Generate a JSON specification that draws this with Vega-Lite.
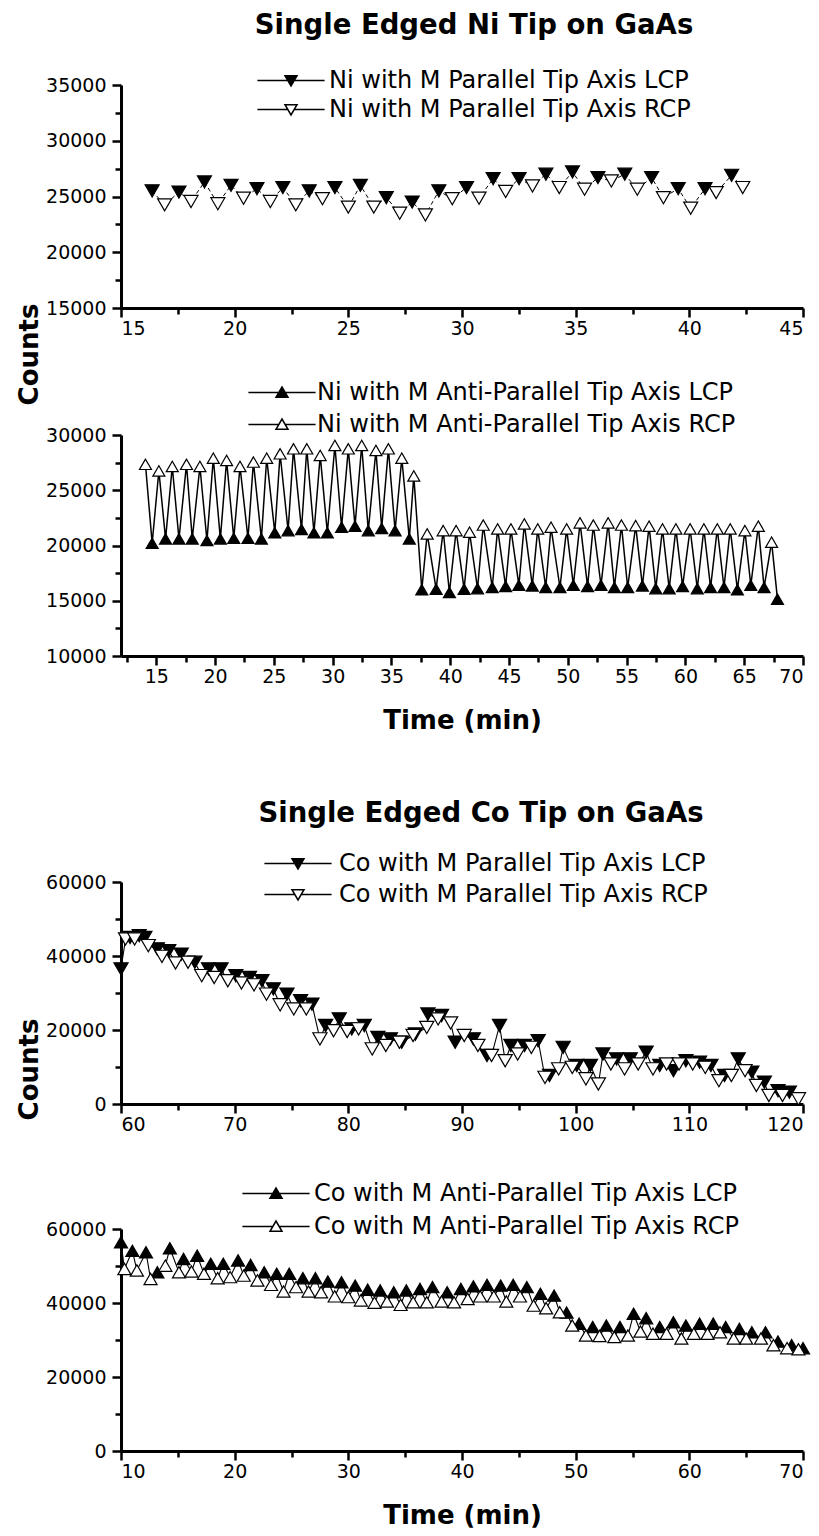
{
  "$schema": "https://vega.github.io/schema/vega-lite/v6.json",
  "autosize": {"type": "pad"},
  "padding": {"left": 16, "top": 12, "right": 5, "bottom": 5},
  "background": "white",
  "config": {
    "view": {"stroke": null},
    "font": "DejaVu Sans",
    "axis": {"domainColor": "black", "domainWidth": 3, "tickColor": "black", "tickWidth": 2.5, "tickSize": 9, "labelFont": "DejaVu Sans", "labelFontSize": 19, "labelColor": "black", "labelPadding": 6, "grid": false, "titleFont": "DejaVu Sans", "titleFontSize": 26, "titleFontWeight": "bold", "titleColor": "black"},
    "legend": {"labelFont": "DejaVu Sans", "labelFontSize": 24, "labelColor": "black", "labelLimit": 0, "symbolSize": 144, "symbolStrokeColor": "black", "symbolStrokeWidth": 1.5, "symbolOpacity": 1, "padding": 0, "title": null, "orient": "none", "direction": "vertical"},
    "title": {"font": "DejaVu Sans", "fontSize": 27.5, "fontWeight": "bold", "color": "black"}
  },
  "resolve": {"scale": {"fill": "independent"}, "legend": {"fill": "independent"}},
  "datasets": {
    "niPar": [
      {"t": 16.37, "counts": 25500, "series": "Ni with M Parallel Tip Axis LCP"},
      {"t": 17.55, "counts": 25400, "series": "Ni with M Parallel Tip Axis LCP"},
      {"t": 18.67, "counts": 26300, "series": "Ni with M Parallel Tip Axis LCP"},
      {"t": 19.84, "counts": 26000, "series": "Ni with M Parallel Tip Axis LCP"},
      {"t": 20.98, "counts": 25700, "series": "Ni with M Parallel Tip Axis LCP"},
      {"t": 22.12, "counts": 25800, "series": "Ni with M Parallel Tip Axis LCP"},
      {"t": 23.28, "counts": 25500, "series": "Ni with M Parallel Tip Axis LCP"},
      {"t": 24.41, "counts": 25800, "series": "Ni with M Parallel Tip Axis LCP"},
      {"t": 25.53, "counts": 26000, "series": "Ni with M Parallel Tip Axis LCP"},
      {"t": 26.67, "counts": 24900, "series": "Ni with M Parallel Tip Axis LCP"},
      {"t": 27.81, "counts": 24500, "series": "Ni with M Parallel Tip Axis LCP"},
      {"t": 28.98, "counts": 25500, "series": "Ni with M Parallel Tip Axis LCP"},
      {"t": 30.20, "counts": 25800, "series": "Ni with M Parallel Tip Axis LCP"},
      {"t": 31.37, "counts": 26600, "series": "Ni with M Parallel Tip Axis LCP"},
      {"t": 32.51, "counts": 26600, "series": "Ni with M Parallel Tip Axis LCP"},
      {"t": 33.69, "counts": 27000, "series": "Ni with M Parallel Tip Axis LCP"},
      {"t": 34.86, "counts": 27200, "series": "Ni with M Parallel Tip Axis LCP"},
      {"t": 35.98, "counts": 26700, "series": "Ni with M Parallel Tip Axis LCP"},
      {"t": 37.16, "counts": 27000, "series": "Ni with M Parallel Tip Axis LCP"},
      {"t": 38.34, "counts": 26700, "series": "Ni with M Parallel Tip Axis LCP"},
      {"t": 39.51, "counts": 25700, "series": "Ni with M Parallel Tip Axis LCP"},
      {"t": 40.69, "counts": 25700, "series": "Ni with M Parallel Tip Axis LCP"},
      {"t": 41.86, "counts": 26900, "series": "Ni with M Parallel Tip Axis LCP"},
      {"t": 16.92, "counts": 24250, "series": "Ni with M Parallel Tip Axis RCP"},
      {"t": 18.08, "counts": 24550, "series": "Ni with M Parallel Tip Axis RCP"},
      {"t": 19.26, "counts": 24350, "series": "Ni with M Parallel Tip Axis RCP"},
      {"t": 20.39, "counts": 24850, "series": "Ni with M Parallel Tip Axis RCP"},
      {"t": 21.57, "counts": 24550, "series": "Ni with M Parallel Tip Axis RCP"},
      {"t": 22.69, "counts": 24250, "series": "Ni with M Parallel Tip Axis RCP"},
      {"t": 23.86, "counts": 24800, "series": "Ni with M Parallel Tip Axis RCP"},
      {"t": 25.00, "counts": 24050, "series": "Ni with M Parallel Tip Axis RCP"},
      {"t": 26.12, "counts": 24050, "series": "Ni with M Parallel Tip Axis RCP"},
      {"t": 27.26, "counts": 23500, "series": "Ni with M Parallel Tip Axis RCP"},
      {"t": 28.39, "counts": 23350, "series": "Ni with M Parallel Tip Axis RCP"},
      {"t": 29.57, "counts": 24800, "series": "Ni with M Parallel Tip Axis RCP"},
      {"t": 30.75, "counts": 24850, "series": "Ni with M Parallel Tip Axis RCP"},
      {"t": 31.92, "counts": 25450, "series": "Ni with M Parallel Tip Axis RCP"},
      {"t": 33.10, "counts": 25950, "series": "Ni with M Parallel Tip Axis RCP"},
      {"t": 34.28, "counts": 25800, "series": "Ni with M Parallel Tip Axis RCP"},
      {"t": 35.39, "counts": 25650, "series": "Ni with M Parallel Tip Axis RCP"},
      {"t": 36.57, "counts": 26400, "series": "Ni with M Parallel Tip Axis RCP"},
      {"t": 37.71, "counts": 25650, "series": "Ni with M Parallel Tip Axis RCP"},
      {"t": 38.86, "counts": 24900, "series": "Ni with M Parallel Tip Axis RCP"},
      {"t": 40.06, "counts": 23950, "series": "Ni with M Parallel Tip Axis RCP"},
      {"t": 41.18, "counts": 25350, "series": "Ni with M Parallel Tip Axis RCP"},
      {"t": 42.35, "counts": 25800, "series": "Ni with M Parallel Tip Axis RCP"}
    ],
    "niAnti": [
      {"t": 14.65, "counts": 20200, "series": "Ni with M Anti-Parallel Tip Axis LCP"},
      {"t": 15.79, "counts": 20600, "series": "Ni with M Anti-Parallel Tip Axis LCP"},
      {"t": 16.93, "counts": 20600, "series": "Ni with M Anti-Parallel Tip Axis LCP"},
      {"t": 18.06, "counts": 20600, "series": "Ni with M Anti-Parallel Tip Axis LCP"},
      {"t": 19.31, "counts": 20450, "series": "Ni with M Anti-Parallel Tip Axis LCP"},
      {"t": 20.45, "counts": 20600, "series": "Ni with M Anti-Parallel Tip Axis LCP"},
      {"t": 21.59, "counts": 20650, "series": "Ni with M Anti-Parallel Tip Axis LCP"},
      {"t": 22.80, "counts": 20650, "series": "Ni with M Anti-Parallel Tip Axis LCP"},
      {"t": 23.94, "counts": 20600, "series": "Ni with M Anti-Parallel Tip Axis LCP"},
      {"t": 25.08, "counts": 21150, "series": "Ni with M Anti-Parallel Tip Axis LCP"},
      {"t": 26.21, "counts": 21350, "series": "Ni with M Anti-Parallel Tip Axis LCP"},
      {"t": 27.35, "counts": 21450, "series": "Ni with M Anti-Parallel Tip Axis LCP"},
      {"t": 28.41, "counts": 21150, "series": "Ni with M Anti-Parallel Tip Axis LCP"},
      {"t": 29.55, "counts": 21150, "series": "Ni with M Anti-Parallel Tip Axis LCP"},
      {"t": 30.76, "counts": 21650, "series": "Ni with M Anti-Parallel Tip Axis LCP"},
      {"t": 31.90, "counts": 21750, "series": "Ni with M Anti-Parallel Tip Axis LCP"},
      {"t": 33.03, "counts": 21350, "series": "Ni with M Anti-Parallel Tip Axis LCP"},
      {"t": 34.17, "counts": 21550, "series": "Ni with M Anti-Parallel Tip Axis LCP"},
      {"t": 35.31, "counts": 21350, "series": "Ni with M Anti-Parallel Tip Axis LCP"},
      {"t": 36.52, "counts": 20600, "series": "Ni with M Anti-Parallel Tip Axis LCP"},
      {"t": 37.58, "counts": 16000, "series": "Ni with M Anti-Parallel Tip Axis LCP"},
      {"t": 38.80, "counts": 16050, "series": "Ni with M Anti-Parallel Tip Axis LCP"},
      {"t": 39.93, "counts": 15750, "series": "Ni with M Anti-Parallel Tip Axis LCP"},
      {"t": 41.18, "counts": 16050, "series": "Ni with M Anti-Parallel Tip Axis LCP"},
      {"t": 42.32, "counts": 16100, "series": "Ni with M Anti-Parallel Tip Axis LCP"},
      {"t": 43.57, "counts": 16200, "series": "Ni with M Anti-Parallel Tip Axis LCP"},
      {"t": 44.71, "counts": 16300, "series": "Ni with M Anti-Parallel Tip Axis LCP"},
      {"t": 45.84, "counts": 16400, "series": "Ni with M Anti-Parallel Tip Axis LCP"},
      {"t": 46.98, "counts": 16350, "series": "Ni with M Anti-Parallel Tip Axis LCP"},
      {"t": 48.12, "counts": 16200, "series": "Ni with M Anti-Parallel Tip Axis LCP"},
      {"t": 49.33, "counts": 16200, "series": "Ni with M Anti-Parallel Tip Axis LCP"},
      {"t": 50.47, "counts": 16400, "series": "Ni with M Anti-Parallel Tip Axis LCP"},
      {"t": 51.68, "counts": 16300, "series": "Ni with M Anti-Parallel Tip Axis LCP"},
      {"t": 52.82, "counts": 16400, "series": "Ni with M Anti-Parallel Tip Axis LCP"},
      {"t": 53.96, "counts": 16200, "series": "Ni with M Anti-Parallel Tip Axis LCP"},
      {"t": 55.09, "counts": 16200, "series": "Ni with M Anti-Parallel Tip Axis LCP"},
      {"t": 56.34, "counts": 16350, "series": "Ni with M Anti-Parallel Tip Axis LCP"},
      {"t": 57.48, "counts": 16100, "series": "Ni with M Anti-Parallel Tip Axis LCP"},
      {"t": 58.62, "counts": 16100, "series": "Ni with M Anti-Parallel Tip Axis LCP"},
      {"t": 59.76, "counts": 16300, "series": "Ni with M Anti-Parallel Tip Axis LCP"},
      {"t": 61.01, "counts": 16100, "series": "Ni with M Anti-Parallel Tip Axis LCP"},
      {"t": 62.14, "counts": 16200, "series": "Ni with M Anti-Parallel Tip Axis LCP"},
      {"t": 63.28, "counts": 16200, "series": "Ni with M Anti-Parallel Tip Axis LCP"},
      {"t": 64.42, "counts": 16000, "series": "Ni with M Anti-Parallel Tip Axis LCP"},
      {"t": 65.56, "counts": 16400, "series": "Ni with M Anti-Parallel Tip Axis LCP"},
      {"t": 66.69, "counts": 16200, "series": "Ni with M Anti-Parallel Tip Axis LCP"},
      {"t": 67.83, "counts": 15150, "series": "Ni with M Anti-Parallel Tip Axis LCP"},
      {"t": 14.08, "counts": 27350, "series": "Ni with M Anti-Parallel Tip Axis RCP"},
      {"t": 15.22, "counts": 26750, "series": "Ni with M Anti-Parallel Tip Axis RCP"},
      {"t": 16.36, "counts": 27150, "series": "Ni with M Anti-Parallel Tip Axis RCP"},
      {"t": 17.57, "counts": 27350, "series": "Ni with M Anti-Parallel Tip Axis RCP"},
      {"t": 18.71, "counts": 27150, "series": "Ni with M Anti-Parallel Tip Axis RCP"},
      {"t": 19.85, "counts": 27900, "series": "Ni with M Anti-Parallel Tip Axis RCP"},
      {"t": 20.98, "counts": 27700, "series": "Ni with M Anti-Parallel Tip Axis RCP"},
      {"t": 22.12, "counts": 27150, "series": "Ni with M Anti-Parallel Tip Axis RCP"},
      {"t": 23.26, "counts": 27550, "series": "Ni with M Anti-Parallel Tip Axis RCP"},
      {"t": 24.39, "counts": 27900, "series": "Ni with M Anti-Parallel Tip Axis RCP"},
      {"t": 25.53, "counts": 28300, "series": "Ni with M Anti-Parallel Tip Axis RCP"},
      {"t": 26.67, "counts": 28750, "series": "Ni with M Anti-Parallel Tip Axis RCP"},
      {"t": 27.80, "counts": 28750, "series": "Ni with M Anti-Parallel Tip Axis RCP"},
      {"t": 28.94, "counts": 28150, "series": "Ni with M Anti-Parallel Tip Axis RCP"},
      {"t": 30.19, "counts": 29050, "series": "Ni with M Anti-Parallel Tip Axis RCP"},
      {"t": 31.33, "counts": 28750, "series": "Ni with M Anti-Parallel Tip Axis RCP"},
      {"t": 32.47, "counts": 29050, "series": "Ni with M Anti-Parallel Tip Axis RCP"},
      {"t": 33.68, "counts": 28600, "series": "Ni with M Anti-Parallel Tip Axis RCP"},
      {"t": 34.74, "counts": 28750, "series": "Ni with M Anti-Parallel Tip Axis RCP"},
      {"t": 35.88, "counts": 27900, "series": "Ni with M Anti-Parallel Tip Axis RCP"},
      {"t": 36.90, "counts": 26300, "series": "Ni with M Anti-Parallel Tip Axis RCP"},
      {"t": 38.04, "counts": 21050, "series": "Ni with M Anti-Parallel Tip Axis RCP"},
      {"t": 39.40, "counts": 21350, "series": "Ni with M Anti-Parallel Tip Axis RCP"},
      {"t": 40.50, "counts": 21350, "series": "Ni with M Anti-Parallel Tip Axis RCP"},
      {"t": 41.64, "counts": 21200, "series": "Ni with M Anti-Parallel Tip Axis RCP"},
      {"t": 42.81, "counts": 21850, "series": "Ni with M Anti-Parallel Tip Axis RCP"},
      {"t": 44.03, "counts": 21500, "series": "Ni with M Anti-Parallel Tip Axis RCP"},
      {"t": 45.16, "counts": 21500, "series": "Ni with M Anti-Parallel Tip Axis RCP"},
      {"t": 46.30, "counts": 21950, "series": "Ni with M Anti-Parallel Tip Axis RCP"},
      {"t": 47.44, "counts": 21500, "series": "Ni with M Anti-Parallel Tip Axis RCP"},
      {"t": 48.57, "counts": 21650, "series": "Ni with M Anti-Parallel Tip Axis RCP"},
      {"t": 49.90, "counts": 21500, "series": "Ni with M Anti-Parallel Tip Axis RCP"},
      {"t": 51.04, "counts": 22050, "series": "Ni with M Anti-Parallel Tip Axis RCP"},
      {"t": 52.17, "counts": 21850, "series": "Ni with M Anti-Parallel Tip Axis RCP"},
      {"t": 53.43, "counts": 22050, "series": "Ni with M Anti-Parallel Tip Axis RCP"},
      {"t": 54.56, "counts": 21850, "series": "Ni with M Anti-Parallel Tip Axis RCP"},
      {"t": 55.77, "counts": 21800, "series": "Ni with M Anti-Parallel Tip Axis RCP"},
      {"t": 56.91, "counts": 21750, "series": "Ni with M Anti-Parallel Tip Axis RCP"},
      {"t": 58.05, "counts": 21500, "series": "Ni with M Anti-Parallel Tip Axis RCP"},
      {"t": 59.19, "counts": 21500, "series": "Ni with M Anti-Parallel Tip Axis RCP"},
      {"t": 60.40, "counts": 21500, "series": "Ni with M Anti-Parallel Tip Axis RCP"},
      {"t": 61.57, "counts": 21500, "series": "Ni with M Anti-Parallel Tip Axis RCP"},
      {"t": 62.71, "counts": 21500, "series": "Ni with M Anti-Parallel Tip Axis RCP"},
      {"t": 63.81, "counts": 21500, "series": "Ni with M Anti-Parallel Tip Axis RCP"},
      {"t": 65.06, "counts": 21350, "series": "Ni with M Anti-Parallel Tip Axis RCP"},
      {"t": 66.20, "counts": 21750, "series": "Ni with M Anti-Parallel Tip Axis RCP"},
      {"t": 67.33, "counts": 20300, "series": "Ni with M Anti-Parallel Tip Axis RCP"}
    ],
    "coPar": [
      {"t": 60.0, "counts": 36500, "series": "Co with M Parallel Tip Axis LCP"},
      {"t": 60.8, "counts": 45000, "series": "Co with M Parallel Tip Axis LCP"},
      {"t": 61.6, "counts": 45500, "series": "Co with M Parallel Tip Axis LCP"},
      {"t": 62.1, "counts": 45000, "series": "Co with M Parallel Tip Axis LCP"},
      {"t": 63.2, "counts": 41900, "series": "Co with M Parallel Tip Axis LCP"},
      {"t": 64.2, "counts": 41400, "series": "Co with M Parallel Tip Axis LCP"},
      {"t": 65.3, "counts": 40500, "series": "Co with M Parallel Tip Axis LCP"},
      {"t": 66.5, "counts": 38300, "series": "Co with M Parallel Tip Axis LCP"},
      {"t": 67.7, "counts": 36500, "series": "Co with M Parallel Tip Axis LCP"},
      {"t": 68.8, "counts": 36500, "series": "Co with M Parallel Tip Axis LCP"},
      {"t": 70.1, "counts": 34700, "series": "Co with M Parallel Tip Axis LCP"},
      {"t": 71.3, "counts": 34200, "series": "Co with M Parallel Tip Axis LCP"},
      {"t": 72.4, "counts": 33300, "series": "Co with M Parallel Tip Axis LCP"},
      {"t": 73.4, "counts": 31100, "series": "Co with M Parallel Tip Axis LCP"},
      {"t": 74.6, "counts": 29700, "series": "Co with M Parallel Tip Axis LCP"},
      {"t": 75.8, "counts": 27900, "series": "Co with M Parallel Tip Axis LCP"},
      {"t": 76.8, "counts": 27000, "series": "Co with M Parallel Tip Axis LCP"},
      {"t": 78.0, "counts": 21200, "series": "Co with M Parallel Tip Axis LCP"},
      {"t": 79.2, "counts": 23000, "series": "Co with M Parallel Tip Axis LCP"},
      {"t": 80.3, "counts": 20300, "series": "Co with M Parallel Tip Axis LCP"},
      {"t": 81.4, "counts": 21200, "series": "Co with M Parallel Tip Axis LCP"},
      {"t": 82.6, "counts": 18000, "series": "Co with M Parallel Tip Axis LCP"},
      {"t": 83.7, "counts": 17600, "series": "Co with M Parallel Tip Axis LCP"},
      {"t": 84.7, "counts": 16700, "series": "Co with M Parallel Tip Axis LCP"},
      {"t": 85.9, "counts": 18900, "series": "Co with M Parallel Tip Axis LCP"},
      {"t": 87.0, "counts": 24300, "series": "Co with M Parallel Tip Axis LCP"},
      {"t": 88.2, "counts": 23900, "series": "Co with M Parallel Tip Axis LCP"},
      {"t": 89.4, "counts": 16700, "series": "Co with M Parallel Tip Axis LCP"},
      {"t": 91.0, "counts": 17600, "series": "Co with M Parallel Tip Axis LCP"},
      {"t": 92.2, "counts": 13100, "series": "Co with M Parallel Tip Axis LCP"},
      {"t": 93.3, "counts": 21200, "series": "Co with M Parallel Tip Axis LCP"},
      {"t": 94.3, "counts": 15800, "series": "Co with M Parallel Tip Axis LCP"},
      {"t": 95.5, "counts": 15800, "series": "Co with M Parallel Tip Axis LCP"},
      {"t": 96.7, "counts": 17100, "series": "Co with M Parallel Tip Axis LCP"},
      {"t": 97.7, "counts": 7700, "series": "Co with M Parallel Tip Axis LCP"},
      {"t": 98.9, "counts": 15300, "series": "Co with M Parallel Tip Axis LCP"},
      {"t": 100.1, "counts": 10400, "series": "Co with M Parallel Tip Axis LCP"},
      {"t": 101.3, "counts": 10400, "series": "Co with M Parallel Tip Axis LCP"},
      {"t": 102.4, "counts": 13500, "series": "Co with M Parallel Tip Axis LCP"},
      {"t": 103.6, "counts": 12200, "series": "Co with M Parallel Tip Axis LCP"},
      {"t": 104.8, "counts": 12200, "series": "Co with M Parallel Tip Axis LCP"},
      {"t": 106.2, "counts": 14000, "series": "Co with M Parallel Tip Axis LCP"},
      {"t": 107.4, "counts": 10400, "series": "Co with M Parallel Tip Axis LCP"},
      {"t": 108.6, "counts": 9000, "series": "Co with M Parallel Tip Axis LCP"},
      {"t": 109.7, "counts": 11700, "series": "Co with M Parallel Tip Axis LCP"},
      {"t": 110.9, "counts": 11300, "series": "Co with M Parallel Tip Axis LCP"},
      {"t": 111.9, "counts": 10400, "series": "Co with M Parallel Tip Axis LCP"},
      {"t": 113.1, "counts": 7700, "series": "Co with M Parallel Tip Axis LCP"},
      {"t": 114.3, "counts": 12200, "series": "Co with M Parallel Tip Axis LCP"},
      {"t": 115.5, "counts": 8600, "series": "Co with M Parallel Tip Axis LCP"},
      {"t": 116.6, "counts": 5900, "series": "Co with M Parallel Tip Axis LCP"},
      {"t": 117.8, "counts": 3600, "series": "Co with M Parallel Tip Axis LCP"},
      {"t": 118.8, "counts": 3200, "series": "Co with M Parallel Tip Axis LCP"},
      {"t": 60.4, "counts": 44600, "series": "Co with M Parallel Tip Axis RCP"},
      {"t": 61.2, "counts": 44600, "series": "Co with M Parallel Tip Axis RCP"},
      {"t": 62.4, "counts": 42800, "series": "Co with M Parallel Tip Axis RCP"},
      {"t": 63.6, "counts": 39900, "series": "Co with M Parallel Tip Axis RCP"},
      {"t": 64.8, "counts": 38100, "series": "Co with M Parallel Tip Axis RCP"},
      {"t": 65.9, "counts": 38300, "series": "Co with M Parallel Tip Axis RCP"},
      {"t": 67.1, "counts": 34700, "series": "Co with M Parallel Tip Axis RCP"},
      {"t": 68.2, "counts": 34200, "series": "Co with M Parallel Tip Axis RCP"},
      {"t": 69.4, "counts": 33300, "series": "Co with M Parallel Tip Axis RCP"},
      {"t": 70.6, "counts": 32700, "series": "Co with M Parallel Tip Axis RCP"},
      {"t": 71.7, "counts": 32200, "series": "Co with M Parallel Tip Axis RCP"},
      {"t": 72.8, "counts": 29700, "series": "Co with M Parallel Tip Axis RCP"},
      {"t": 74.0, "counts": 26800, "series": "Co with M Parallel Tip Axis RCP"},
      {"t": 75.2, "counts": 25700, "series": "Co with M Parallel Tip Axis RCP"},
      {"t": 76.3, "counts": 25700, "series": "Co with M Parallel Tip Axis RCP"},
      {"t": 77.5, "counts": 17600, "series": "Co with M Parallel Tip Axis RCP"},
      {"t": 78.7, "counts": 19800, "series": "Co with M Parallel Tip Axis RCP"},
      {"t": 79.9, "counts": 19600, "series": "Co with M Parallel Tip Axis RCP"},
      {"t": 80.9, "counts": 20300, "series": "Co with M Parallel Tip Axis RCP"},
      {"t": 82.1, "counts": 14900, "series": "Co with M Parallel Tip Axis RCP"},
      {"t": 83.3, "counts": 15800, "series": "Co with M Parallel Tip Axis RCP"},
      {"t": 84.5, "counts": 16700, "series": "Co with M Parallel Tip Axis RCP"},
      {"t": 85.7, "counts": 18500, "series": "Co with M Parallel Tip Axis RCP"},
      {"t": 86.9, "counts": 20700, "series": "Co with M Parallel Tip Axis RCP"},
      {"t": 87.9, "counts": 23000, "series": "Co with M Parallel Tip Axis RCP"},
      {"t": 89.0, "counts": 21900, "series": "Co with M Parallel Tip Axis RCP"},
      {"t": 90.2, "counts": 18500, "series": "Co with M Parallel Tip Axis RCP"},
      {"t": 91.4, "counts": 15800, "series": "Co with M Parallel Tip Axis RCP"},
      {"t": 92.6, "counts": 13100, "series": "Co with M Parallel Tip Axis RCP"},
      {"t": 93.8, "counts": 11700, "series": "Co with M Parallel Tip Axis RCP"},
      {"t": 94.9, "counts": 13500, "series": "Co with M Parallel Tip Axis RCP"},
      {"t": 96.1, "counts": 15300, "series": "Co with M Parallel Tip Axis RCP"},
      {"t": 97.3, "counts": 7200, "series": "Co with M Parallel Tip Axis RCP"},
      {"t": 98.5, "counts": 9500, "series": "Co with M Parallel Tip Axis RCP"},
      {"t": 99.7, "counts": 9900, "series": "Co with M Parallel Tip Axis RCP"},
      {"t": 100.9, "counts": 6800, "series": "Co with M Parallel Tip Axis RCP"},
      {"t": 102.0, "counts": 5400, "series": "Co with M Parallel Tip Axis RCP"},
      {"t": 103.1, "counts": 10800, "series": "Co with M Parallel Tip Axis RCP"},
      {"t": 104.3, "counts": 9500, "series": "Co with M Parallel Tip Axis RCP"},
      {"t": 105.5, "counts": 10800, "series": "Co with M Parallel Tip Axis RCP"},
      {"t": 106.8, "counts": 9500, "series": "Co with M Parallel Tip Axis RCP"},
      {"t": 108.0, "counts": 10800, "series": "Co with M Parallel Tip Axis RCP"},
      {"t": 109.1, "counts": 10800, "series": "Co with M Parallel Tip Axis RCP"},
      {"t": 110.3, "counts": 10800, "series": "Co with M Parallel Tip Axis RCP"},
      {"t": 111.4, "counts": 9900, "series": "Co with M Parallel Tip Axis RCP"},
      {"t": 112.6, "counts": 6300, "series": "Co with M Parallel Tip Axis RCP"},
      {"t": 113.7, "counts": 7700, "series": "Co with M Parallel Tip Axis RCP"},
      {"t": 114.9, "counts": 9000, "series": "Co with M Parallel Tip Axis RCP"},
      {"t": 115.9, "counts": 5000, "series": "Co with M Parallel Tip Axis RCP"},
      {"t": 117.0, "counts": 2300, "series": "Co with M Parallel Tip Axis RCP"},
      {"t": 118.2, "counts": 2300, "series": "Co with M Parallel Tip Axis RCP"},
      {"t": 119.6, "counts": 1400, "series": "Co with M Parallel Tip Axis RCP"}
    ],
    "coAnti": [
      {"t": 10.0, "counts": 56400, "series": "Co with M Anti-Parallel Tip Axis LCP"},
      {"t": 11.0, "counts": 54100, "series": "Co with M Anti-Parallel Tip Axis LCP"},
      {"t": 12.2, "counts": 53700, "series": "Co with M Anti-Parallel Tip Axis LCP"},
      {"t": 13.2, "counts": 48300, "series": "Co with M Anti-Parallel Tip Axis LCP"},
      {"t": 14.3, "counts": 54800, "series": "Co with M Anti-Parallel Tip Axis LCP"},
      {"t": 15.5, "counts": 51900, "series": "Co with M Anti-Parallel Tip Axis LCP"},
      {"t": 16.7, "counts": 52800, "series": "Co with M Anti-Parallel Tip Axis LCP"},
      {"t": 17.9, "counts": 50600, "series": "Co with M Anti-Parallel Tip Axis LCP"},
      {"t": 19.0, "counts": 50600, "series": "Co with M Anti-Parallel Tip Axis LCP"},
      {"t": 20.3, "counts": 51500, "series": "Co with M Anti-Parallel Tip Axis LCP"},
      {"t": 21.4, "counts": 50300, "series": "Co with M Anti-Parallel Tip Axis LCP"},
      {"t": 22.6, "counts": 48300, "series": "Co with M Anti-Parallel Tip Axis LCP"},
      {"t": 23.7, "counts": 47900, "series": "Co with M Anti-Parallel Tip Axis LCP"},
      {"t": 24.8, "counts": 47900, "series": "Co with M Anti-Parallel Tip Axis LCP"},
      {"t": 26.0, "counts": 46700, "series": "Co with M Anti-Parallel Tip Axis LCP"},
      {"t": 27.1, "counts": 46700, "series": "Co with M Anti-Parallel Tip Axis LCP"},
      {"t": 28.2, "counts": 45800, "series": "Co with M Anti-Parallel Tip Axis LCP"},
      {"t": 29.4, "counts": 45600, "series": "Co with M Anti-Parallel Tip Axis LCP"},
      {"t": 30.6, "counts": 44700, "series": "Co with M Anti-Parallel Tip Axis LCP"},
      {"t": 31.7, "counts": 43600, "series": "Co with M Anti-Parallel Tip Axis LCP"},
      {"t": 32.8, "counts": 43400, "series": "Co with M Anti-Parallel Tip Axis LCP"},
      {"t": 34.0, "counts": 42900, "series": "Co with M Anti-Parallel Tip Axis LCP"},
      {"t": 35.1, "counts": 43400, "series": "Co with M Anti-Parallel Tip Axis LCP"},
      {"t": 36.3, "counts": 43800, "series": "Co with M Anti-Parallel Tip Axis LCP"},
      {"t": 37.4, "counts": 44300, "series": "Co with M Anti-Parallel Tip Axis LCP"},
      {"t": 38.7, "counts": 42900, "series": "Co with M Anti-Parallel Tip Axis LCP"},
      {"t": 39.9, "counts": 43800, "series": "Co with M Anti-Parallel Tip Axis LCP"},
      {"t": 41.0, "counts": 44500, "series": "Co with M Anti-Parallel Tip Axis LCP"},
      {"t": 42.2, "counts": 44900, "series": "Co with M Anti-Parallel Tip Axis LCP"},
      {"t": 43.4, "counts": 44700, "series": "Co with M Anti-Parallel Tip Axis LCP"},
      {"t": 44.5, "counts": 44900, "series": "Co with M Anti-Parallel Tip Axis LCP"},
      {"t": 45.7, "counts": 44300, "series": "Co with M Anti-Parallel Tip Axis LCP"},
      {"t": 46.9, "counts": 42500, "series": "Co with M Anti-Parallel Tip Axis LCP"},
      {"t": 48.1, "counts": 42000, "series": "Co with M Anti-Parallel Tip Axis LCP"},
      {"t": 49.2, "counts": 37400, "series": "Co with M Anti-Parallel Tip Axis LCP"},
      {"t": 50.3, "counts": 34400, "series": "Co with M Anti-Parallel Tip Axis LCP"},
      {"t": 51.5, "counts": 33500, "series": "Co with M Anti-Parallel Tip Axis LCP"},
      {"t": 52.7, "counts": 33900, "series": "Co with M Anti-Parallel Tip Axis LCP"},
      {"t": 53.9, "counts": 33500, "series": "Co with M Anti-Parallel Tip Axis LCP"},
      {"t": 55.1, "counts": 37100, "series": "Co with M Anti-Parallel Tip Axis LCP"},
      {"t": 56.2, "counts": 35900, "series": "Co with M Anti-Parallel Tip Axis LCP"},
      {"t": 57.4, "counts": 33500, "series": "Co with M Anti-Parallel Tip Axis LCP"},
      {"t": 58.6, "counts": 34800, "series": "Co with M Anti-Parallel Tip Axis LCP"},
      {"t": 59.7, "counts": 33900, "series": "Co with M Anti-Parallel Tip Axis LCP"},
      {"t": 60.9, "counts": 34400, "series": "Co with M Anti-Parallel Tip Axis LCP"},
      {"t": 62.1, "counts": 34400, "series": "Co with M Anti-Parallel Tip Axis LCP"},
      {"t": 63.2, "counts": 33500, "series": "Co with M Anti-Parallel Tip Axis LCP"},
      {"t": 64.4, "counts": 33000, "series": "Co with M Anti-Parallel Tip Axis LCP"},
      {"t": 65.5, "counts": 32100, "series": "Co with M Anti-Parallel Tip Axis LCP"},
      {"t": 66.7, "counts": 32100, "series": "Co with M Anti-Parallel Tip Axis LCP"},
      {"t": 67.8, "counts": 29600, "series": "Co with M Anti-Parallel Tip Axis LCP"},
      {"t": 69.0, "counts": 28600, "series": "Co with M Anti-Parallel Tip Axis LCP"},
      {"t": 70.0, "counts": 27800, "series": "Co with M Anti-Parallel Tip Axis LCP"},
      {"t": 10.3, "counts": 49200, "series": "Co with M Anti-Parallel Tip Axis RCP"},
      {"t": 11.4, "counts": 48800, "series": "Co with M Anti-Parallel Tip Axis RCP"},
      {"t": 12.6, "counts": 46500, "series": "Co with M Anti-Parallel Tip Axis RCP"},
      {"t": 13.9, "counts": 50100, "series": "Co with M Anti-Parallel Tip Axis RCP"},
      {"t": 15.1, "counts": 48300, "series": "Co with M Anti-Parallel Tip Axis RCP"},
      {"t": 16.2, "counts": 48500, "series": "Co with M Anti-Parallel Tip Axis RCP"},
      {"t": 17.3, "counts": 47900, "series": "Co with M Anti-Parallel Tip Axis RCP"},
      {"t": 18.5, "counts": 46700, "series": "Co with M Anti-Parallel Tip Axis RCP"},
      {"t": 19.6, "counts": 47000, "series": "Co with M Anti-Parallel Tip Axis RCP"},
      {"t": 20.8, "counts": 47400, "series": "Co with M Anti-Parallel Tip Axis RCP"},
      {"t": 22.0, "counts": 46100, "series": "Co with M Anti-Parallel Tip Axis RCP"},
      {"t": 23.2, "counts": 44900, "series": "Co with M Anti-Parallel Tip Axis RCP"},
      {"t": 24.3, "counts": 43100, "series": "Co with M Anti-Parallel Tip Axis RCP"},
      {"t": 25.4, "counts": 44300, "series": "Co with M Anti-Parallel Tip Axis RCP"},
      {"t": 26.5, "counts": 43100, "series": "Co with M Anti-Parallel Tip Axis RCP"},
      {"t": 27.6, "counts": 42900, "series": "Co with M Anti-Parallel Tip Axis RCP"},
      {"t": 28.8, "counts": 41800, "series": "Co with M Anti-Parallel Tip Axis RCP"},
      {"t": 30.0, "counts": 41600, "series": "Co with M Anti-Parallel Tip Axis RCP"},
      {"t": 31.1, "counts": 40700, "series": "Co with M Anti-Parallel Tip Axis RCP"},
      {"t": 32.3, "counts": 40100, "series": "Co with M Anti-Parallel Tip Axis RCP"},
      {"t": 33.4, "counts": 40400, "series": "Co with M Anti-Parallel Tip Axis RCP"},
      {"t": 34.6, "counts": 39500, "series": "Co with M Anti-Parallel Tip Axis RCP"},
      {"t": 35.7, "counts": 40200, "series": "Co with M Anti-Parallel Tip Axis RCP"},
      {"t": 36.9, "counts": 40200, "series": "Co with M Anti-Parallel Tip Axis RCP"},
      {"t": 38.2, "counts": 40400, "series": "Co with M Anti-Parallel Tip Axis RCP"},
      {"t": 39.3, "counts": 40200, "series": "Co with M Anti-Parallel Tip Axis RCP"},
      {"t": 40.5, "counts": 41100, "series": "Co with M Anti-Parallel Tip Axis RCP"},
      {"t": 41.6, "counts": 41800, "series": "Co with M Anti-Parallel Tip Axis RCP"},
      {"t": 42.8, "counts": 41800, "series": "Co with M Anti-Parallel Tip Axis RCP"},
      {"t": 43.9, "counts": 40400, "series": "Co with M Anti-Parallel Tip Axis RCP"},
      {"t": 45.1, "counts": 41800, "series": "Co with M Anti-Parallel Tip Axis RCP"},
      {"t": 46.3, "counts": 39300, "series": "Co with M Anti-Parallel Tip Axis RCP"},
      {"t": 47.4, "counts": 38600, "series": "Co with M Anti-Parallel Tip Axis RCP"},
      {"t": 48.6, "counts": 37500, "series": "Co with M Anti-Parallel Tip Axis RCP"},
      {"t": 49.7, "counts": 33900, "series": "Co with M Anti-Parallel Tip Axis RCP"},
      {"t": 50.9, "counts": 31200, "series": "Co with M Anti-Parallel Tip Axis RCP"},
      {"t": 52.1, "counts": 31100, "series": "Co with M Anti-Parallel Tip Axis RCP"},
      {"t": 53.4, "counts": 30800, "series": "Co with M Anti-Parallel Tip Axis RCP"},
      {"t": 54.6, "counts": 31200, "series": "Co with M Anti-Parallel Tip Axis RCP"},
      {"t": 55.7, "counts": 32300, "series": "Co with M Anti-Parallel Tip Axis RCP"},
      {"t": 56.8, "counts": 31700, "series": "Co with M Anti-Parallel Tip Axis RCP"},
      {"t": 58.0, "counts": 31700, "series": "Co with M Anti-Parallel Tip Axis RCP"},
      {"t": 59.3, "counts": 30400, "series": "Co with M Anti-Parallel Tip Axis RCP"},
      {"t": 60.4, "counts": 31700, "series": "Co with M Anti-Parallel Tip Axis RCP"},
      {"t": 61.6, "counts": 31700, "series": "Co with M Anti-Parallel Tip Axis RCP"},
      {"t": 62.7, "counts": 32100, "series": "Co with M Anti-Parallel Tip Axis RCP"},
      {"t": 63.9, "counts": 30400, "series": "Co with M Anti-Parallel Tip Axis RCP"},
      {"t": 65.0, "counts": 30400, "series": "Co with M Anti-Parallel Tip Axis RCP"},
      {"t": 66.3, "counts": 30400, "series": "Co with M Anti-Parallel Tip Axis RCP"},
      {"t": 67.4, "counts": 28600, "series": "Co with M Anti-Parallel Tip Axis RCP"},
      {"t": 68.6, "counts": 27800, "series": "Co with M Anti-Parallel Tip Axis RCP"},
      {"t": 69.6, "counts": 27500, "series": "Co with M Anti-Parallel Tip Axis RCP"}
    ],
    "blank": [{"k": 0}]
  },
  "bounds": "flush",
  "spacing": 0,
  "vconcat": [
    {
      "width": 682, "height": 223,
      "title": {"text": "Single Edged Ni Tip on GaAs", "frame": "group", "anchor": "middle", "offset": 7, "baseline": "alphabetic", "dx": 12},
      "data": {"name": "niPar"},
      "layer": [
        {
          "mark": {"type": "line", "color": "black", "strokeWidth": 1, "strokeDash": [4, 3]},
          "encoding": {
            "x": {"field": "t", "type": "quantitative", "scale": {"domain": [15, 45], "nice": false, "zero": false}, "axis": {"orient": "bottom", "values": [15, 20, 25, 30, 35, 40, 45], "title": null, "labelPadding": 2}},
            "y": {"field": "counts", "type": "quantitative", "scale": {"domain": [15000, 35000], "nice": false, "zero": false}, "axis": {"orient": "left", "values": [15000, 20000, 25000, 30000, 35000], "format": "d", "title": "Counts", "titleX": -92, "titleY": 269, "titleAngle": 270, "titleAlign": "center", "titleBaseline": "middle"}}
          }
        },
        {
          "mark": {"type": "point", "shape": "triangle-down", "size": 196, "filled": true, "stroke": "black", "strokeWidth": 1.2, "opacity": 1},
          "encoding": {
            "x": {"field": "t", "type": "quantitative", "axis": {"orient": "bottom", "values": [17.5, 22.5, 27.5, 32.5, 37.5, 42.5], "labels": false, "domain": false, "tickSize": 6, "title": null}},
            "y": {"field": "counts", "type": "quantitative", "axis": {"orient": "left", "values": [17500, 22500, 27500, 32500], "labels": false, "domain": false, "tickSize": 6, "title": null}},
            "fill": {"field": "series", "type": "nominal", "scale": {"domain": ["Ni with M Parallel Tip Axis LCP", "Ni with M Parallel Tip Axis RCP"], "range": ["black", "white"]},
              "legend": {"legendX": 158, "legendY": -16.5, "rowPadding": 5, "labelOffset": 26, "symbolType": "M-5.6,0H-0.53M0.53,0H5.6M-1,-0.8L1,-0.8L0,0.9Z"}}
          }
        }
      ],
      "resolve": {"axis": {"x": "independent", "y": "independent"}}
    },
    {"width": 682, "height": 127, "data": {"name": "blank"}, "mark": {"type": "point", "opacity": 0}, "encoding": {}},
    {
      "width": 682, "height": 221,
      "data": {"name": "niAnti"},
      "layer": [
        {
          "mark": {"type": "line", "color": "black", "strokeWidth": 1.5},
          "encoding": {
            "x": {"field": "t", "type": "quantitative", "scale": {"domain": [12, 70], "nice": false, "zero": false}, "axis": {"orient": "bottom", "values": [15, 20, 25, 30, 35, 40, 45, 50, 55, 60, 65, 70], "title": "Time (min)", "titleY": 72, "titleBaseline": "alphabetic", "labelPadding": 2}},
            "y": {"field": "counts", "type": "quantitative", "scale": {"domain": [10000, 30000], "nice": false, "zero": false}, "axis": {"orient": "left", "values": [10000, 15000, 20000, 25000, 30000], "format": "d", "title": null}}
          }
        },
        {
          "mark": {"type": "point", "shape": "triangle-up", "size": 144, "filled": true, "stroke": "black", "strokeWidth": 1.2, "opacity": 1},
          "encoding": {
            "x": {"field": "t", "type": "quantitative", "axis": {"orient": "bottom", "values": [12.5, 17.5, 22.5, 27.5, 32.5, 37.5, 42.5, 47.5, 52.5, 57.5, 62.5, 67.5], "labels": false, "domain": false, "tickSize": 6, "title": null}},
            "y": {"field": "counts", "type": "quantitative", "axis": {"orient": "left", "values": [12500, 17500, 22500, 27500], "labels": false, "domain": false, "tickSize": 6, "title": null}},
            "fill": {"field": "series", "type": "nominal", "scale": {"domain": ["Ni with M Anti-Parallel Tip Axis LCP", "Ni with M Anti-Parallel Tip Axis RCP"], "range": ["black", "white"]},
              "legend": {"legendX": 149, "legendY": -54.5, "rowPadding": 8, "labelOffset": 23, "symbolType": "M-5.6,0H-0.53M0.53,0H5.6M-1,0.8L1,0.8L0,-0.9Z"}}
          }
        }
      ],
      "resolve": {"axis": {"x": "independent", "y": "independent"}}
    },
    {"width": 682, "height": 226, "data": {"name": "blank"}, "mark": {"type": "point", "opacity": 0}, "encoding": {}},
    {
      "width": 682, "height": 222,
      "title": {"text": "Single Edged Co Tip on GaAs", "frame": "group", "anchor": "middle", "offset": 2, "baseline": "alphabetic", "dx": 19},
      "data": {"name": "coPar"},
      "layer": [
        {
          "mark": {"type": "line", "color": "black", "strokeWidth": 1.1},
          "encoding": {
            "x": {"field": "t", "type": "quantitative", "scale": {"domain": [60, 120], "nice": false, "zero": false}, "axis": {"orient": "bottom", "values": [60, 70, 80, 90, 100, 110, 120], "title": null, "labelPadding": 2}},
            "y": {"field": "counts", "type": "quantitative", "scale": {"domain": [0, 60000], "nice": false}, "axis": {"orient": "left", "values": [0, 20000, 40000, 60000], "format": "d", "title": "Counts", "titleX": -92, "titleY": 187, "titleAngle": 270, "titleAlign": "center", "titleBaseline": "middle"}}
          }
        },
        {
          "mark": {"type": "point", "shape": "triangle-down", "size": 200, "filled": true, "stroke": "black", "strokeWidth": 1.2, "opacity": 1},
          "encoding": {
            "x": {"field": "t", "type": "quantitative", "axis": {"orient": "bottom", "values": [65, 75, 85, 95, 105, 115], "labels": false, "domain": false, "tickSize": 6, "title": null}},
            "y": {"field": "counts", "type": "quantitative", "axis": {"orient": "left", "values": [10000, 30000, 50000], "labels": false, "domain": false, "tickSize": 6, "title": null}},
            "fill": {"field": "series", "type": "nominal", "scale": {"domain": ["Co with M Parallel Tip Axis LCP", "Co with M Parallel Tip Axis RCP"], "range": ["black", "white"]},
              "legend": {"legendX": 165, "legendY": -30.5, "rowPadding": 7, "labelOffset": 29, "symbolType": "M-5.6,0H-0.53M0.53,0H5.6M-1,-0.8L1,-0.8L0,0.9Z"}}
          }
        }
      ],
      "resolve": {"axis": {"x": "independent", "y": "independent"}}
    },
    {"width": 682, "height": 125, "data": {"name": "blank"}, "mark": {"type": "point", "opacity": 0}, "encoding": {}},
    {
      "width": 682, "height": 222,
      "data": {"name": "coAnti"},
      "layer": [
        {
          "mark": {"type": "line", "color": "black", "strokeWidth": 1.1},
          "encoding": {
            "x": {"field": "t", "type": "quantitative", "scale": {"domain": [10, 70], "nice": false, "zero": false}, "axis": {"orient": "bottom", "values": [10, 20, 30, 40, 50, 60, 70], "title": "Time (min)", "titleY": 72, "titleBaseline": "alphabetic", "labelPadding": 2}},
            "y": {"field": "counts", "type": "quantitative", "scale": {"domain": [0, 60000], "nice": false}, "axis": {"orient": "left", "values": [0, 20000, 40000, 60000], "format": "d", "title": null}}
          }
        },
        {
          "mark": {"type": "point", "shape": "triangle-up", "size": 170, "filled": true, "stroke": "black", "strokeWidth": 1.2, "opacity": 1},
          "encoding": {
            "x": {"field": "t", "type": "quantitative", "axis": {"orient": "bottom", "values": [15, 25, 35, 45, 55, 65], "labels": false, "domain": false, "tickSize": 6, "title": null}},
            "y": {"field": "counts", "type": "quantitative", "axis": {"orient": "left", "values": [10000, 30000, 50000], "labels": false, "domain": false, "tickSize": 6, "title": null}},
            "fill": {"field": "series", "type": "nominal", "scale": {"domain": ["Co with M Anti-Parallel Tip Axis LCP", "Co with M Anti-Parallel Tip Axis RCP"], "range": ["black", "white"]},
              "legend": {"legendX": 143, "legendY": -47.5, "rowPadding": 9, "labelOffset": 26, "symbolType": "M-5.6,0H-0.53M0.53,0H5.6M-1,0.8L1,0.8L0,-0.9Z"}}
          }
        }
      ],
      "resolve": {"axis": {"x": "independent", "y": "independent"}}
    }
  ]
}
